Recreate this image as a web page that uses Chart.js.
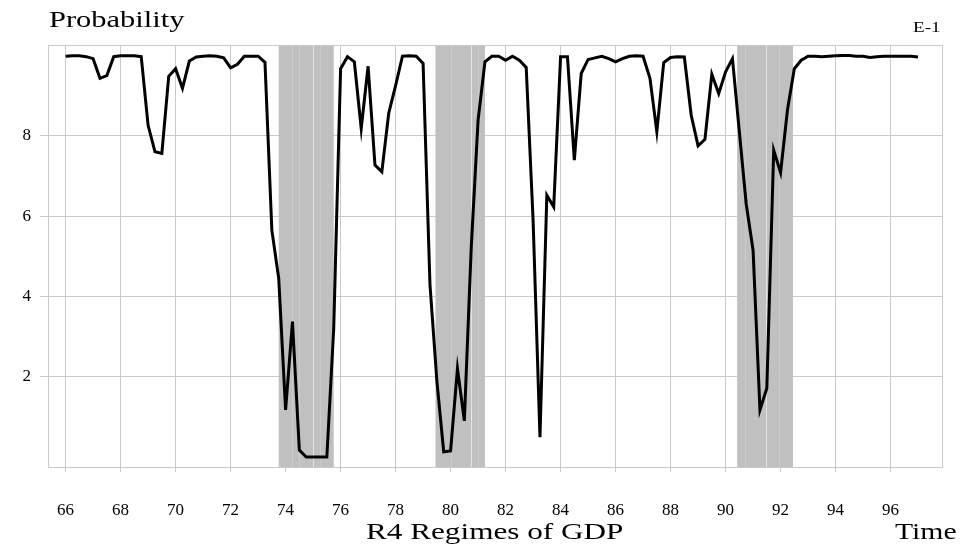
<!DOCTYPE html>
<html>
<head>
<meta charset="utf-8">
<title>R4 Regimes of GDP</title>
<script src="https://cdn.jsdelivr.net/npm/chart.js@4/dist/chart.umd.min.js"></script>
<style>
    html, body { margin: 0; padding: 0; background: #fff; }
    #regimes-chart { display: block; }
</style>
</head>
<body>
<canvas id="regimes-chart" width="960" height="547"></canvas>
<script>
// quarterly regime probability, 1966Q1 .. 1997Q1
const startYear = 66;
const probability = [
    9.98, 9.99, 9.99, 9.97, 9.92, 9.43, 9.50, 9.97,
    9.99, 9.99, 9.99, 9.97, 8.26, 7.60, 7.56, 9.48,
    9.67, 9.18, 9.86, 9.96, 9.98, 9.99, 9.98, 9.94,
    9.69, 9.78, 9.98, 9.98, 9.98, 9.83, 5.65, 4.45,
    1.17, 3.37, 0.17, 0.00, 0.00, 0.00, 0.00, 3.20,
    9.67, 9.97, 9.84, 8.18, 9.73, 7.27, 7.10, 8.56,
    9.25, 9.98, 9.99, 9.98, 9.80, 4.30, 1.90, 0.13,
    0.15, 2.20, 0.90, 5.20, 8.39, 9.84, 9.98, 9.98,
    9.88, 9.98, 9.88, 9.70, 5.90, 0.49, 6.52, 6.23,
    9.97, 9.97, 7.39, 9.55, 9.90, 9.94, 9.98, 9.92,
    9.84, 9.92, 9.98, 9.99, 9.98, 9.43, 8.10, 9.82,
    9.95, 9.97, 9.96, 8.51, 7.75, 7.91, 9.53, 9.05,
    9.59, 9.92, 8.10, 6.30, 5.15, 1.17, 1.71, 7.64,
    7.08, 8.64, 9.67, 9.88, 9.98, 9.98, 9.97, 9.98,
    9.99, 10.0, 10.0, 9.98, 9.98, 9.95, 9.97, 9.98,
    9.98, 9.98, 9.98, 9.98, 9.96
];

// recession bands and the joins between their shaded pieces
const shadeFrom = [73.75, 79.45, 90.42];
const shadeTo = [75.75, 81.25, 92.45];
const seamsBright = [75.0, 80.75, 91.48];
const seamsFaint = [74.25, 74.5, 75.25, 80.0, 81.0, 90.7, 91.93];

const xTicks = [66, 68, 70, 72, 74, 76, 78, 80, 82, 84, 86, 88, 90, 92, 94, 96];
const yTicks = [2, 4, 6, 8];

const serif = "'Liberation Serif', 'Times New Roman', serif";
const gridColor = '#cacaca';

const points = probability.map((v, i) => ({ x: startYear + i / 4, y: v }));

// text in this figure is set wide, so draw it with a horizontal stretch
const drawWide = function(ctx, text, x, y, size, stretch){
    ctx.save();
    ctx.font = `${size}px ${serif}`;
    ctx.fillStyle = '#000';
    ctx.textBaseline = 'alphabetic';
    ctx.translate(x, y);
    ctx.scale(stretch, 1);
    ctx.fillText(text, 0, 0);
    ctx.restore();
};

const shadePlugin = {
    id: 'shade',
    beforeDatasetsDraw(chart){
        const ctx = chart.ctx;
        const xs = chart.scales.x;
        const area = chart.chartArea;

        ctx.save();
        ctx.fillStyle = '#c0c0c0';
        for (let i = 0; i < shadeFrom.length; i++) {
            let left = xs.getPixelForValue(shadeFrom[i]);
            let right = xs.getPixelForValue(shadeTo[i]);
            ctx.fillRect(left, area.top, right - left, area.bottom - area.top);
        }

        ctx.lineWidth = 1;
        ctx.strokeStyle = '#e4e4e4';
        for (const s of seamsBright) {
            let px = Math.round(xs.getPixelForValue(s)) + 0.5;
            ctx.beginPath();
            ctx.moveTo(px, area.top);
            ctx.lineTo(px, area.bottom);
            ctx.stroke();
        }
        ctx.strokeStyle = '#cbcbcb';
        for (const s of seamsFaint) {
            let px = Math.round(xs.getPixelForValue(s)) + 0.5;
            ctx.beginPath();
            ctx.moveTo(px, area.top);
            ctx.lineTo(px, area.bottom);
            ctx.stroke();
        }

        // frame round the plot
        ctx.strokeStyle = gridColor;
        ctx.strokeRect(Math.round(area.left) + 0.5, Math.round(area.top) + 0.5,
            Math.round(area.right - area.left), Math.round(area.bottom - area.top));
        ctx.restore();
    },
    afterDraw(chart){
        const ctx = chart.ctx;
        drawWide(ctx, 'Probability', 49, 27, 24, 1.27);
        drawWide(ctx, 'E-1', 913, 32, 15, 1.27);
        drawWide(ctx, 'R4 Regimes of GDP', 366, 539, 24, 1.3);
        drawWide(ctx, 'Time', 895, 539, 23, 1.29);
    }
};

const ctx = document.getElementById('regimes-chart');

const regimesChart = new Chart(ctx, {
    type: 'line',
    data: {
        datasets: [{
            data: points,
            borderColor: '#000',
            borderWidth: 3,
            pointRadius: 0,
            tension: 0,
            fill: false
        }]
    },
    options: {
        responsive: false,
        animation: false,
        events: [],
        layout: {
            padding: { top: 45, right: 18, left: 0, bottom: 0 }
        },
        plugins: {
            legend: { display: false },
            tooltip: { enabled: false }
        },
        scales: {
            x: {
                type: 'linear',
                min: 65.36,
                max: 97.87,
                afterBuildTicks: scale => {
                    scale.ticks = xTicks.map(v => ({ value: v }));
                },
                afterFit: scale => {
                    scale.height = 80;
                },
                grid: {
                    color: gridColor,
                    lineWidth: 1,
                    tickLength: 5
                },
                border: { display: false },
                ticks: {
                    autoSkip: false,
                    maxRotation: 0,
                    padding: 28,
                    color: '#000',
                    font: { family: serif, size: 17 }
                }
            },
            y: {
                min: -0.25,
                max: 10.26,
                afterBuildTicks: scale => {
                    scale.ticks = yTicks.map(v => ({ value: v }));
                },
                afterFit: scale => {
                    scale.width = 48;
                },
                grid: {
                    color: gridColor,
                    lineWidth: 1,
                    tickLength: 8
                },
                border: { display: false },
                ticks: {
                    padding: 9,
                    color: '#000',
                    font: { family: serif, size: 17 }
                }
            }
        }
    },
    plugins: [shadePlugin]
});
</script>
</body>
</html>
